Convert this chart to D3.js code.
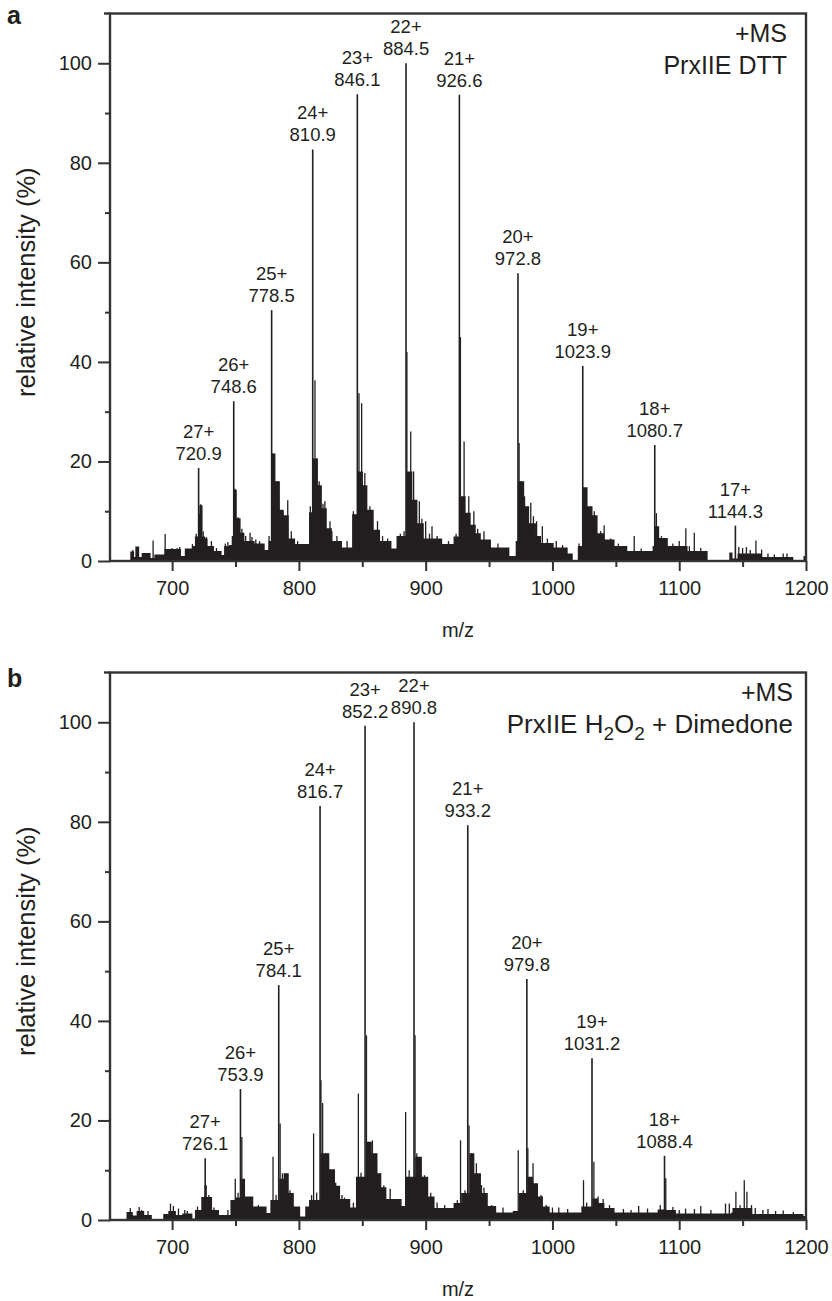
<!DOCTYPE html>
<html>
<head>
<meta charset="utf-8">
<script src="https://cdn.jsdelivr.net/npm/d3@7"></script>
<style>
  body { margin: 0; background: #fff; }
  text { font-family: "Liberation Sans", Arial, Helvetica, sans-serif; fill: #231f20; }
</style>
</head>
<body>
<div id="vis"></div>
<script>
/* ESI mass spectra of PrxIIE, charge-state series, two panels (a: DTT, b: H2O2 + dimedone) */

// ---------- data ----------
// envelope (m/z, relative intensity), drawn as a step profile
var envA = [[651,0],[667,1.9],[670,0.8],[671,2.9],[674,0.8],[676,1.6],[683,0.6],[686,1.3],[694,2.4],[707,1.0],[710,2.5],
  [716,3.0],[718,4.9],[720.5,9.5],[721.5,11.2],[724,4.9],[726,4.5],[728,3.0],[733,2.0],[739,1.2],[741,3.0],[745,3.2],
  [747,5.0],[748.8,14.3],[751,8.6],[754,5.7],[757,4.0],[765,3.5],[773,2.2],[776,4.0],[778.6,21.6],[781.5,16],[785,10.3],
  [788,9.2],[792,4.5],[797,3.4],[808,9.8],[811,20.6],[815,15.2],[818,10.6],[822,6.6],[826,4.0],[834,2.7],[842,9.4],
  [846.2,18],[850.5,15.2],[854,10.3],[859,6.3],[864,4.0],[873,2.5],[877,5.0],[884.6,18],[889.5,12.3],[893.5,7.6],
  [898.5,4.5],[913,3.4],[922,4.9],[926.7,13],[931.5,9.7],[935.5,7.3],[939.5,5.6],[943.5,4.3],[951.5,2.7],[966,1.0],
  [971,4.0],[972.9,16],[977.7,11],[981.6,7.6],[987,5.0],[991,3.6],[1001,2.7],[1012,1.5],[1016,0.2],[1020,3.0],[1024,14.8],
  [1027.7,11],[1031.6,9.2],[1035.6,5.6],[1041,4.3],[1049,3.0],[1059,2.0],[1079,3.0],[1080.8,7.0],[1084.2,4.6],[1091,3.0],
  [1106.6,2.0],[1122.4,0],[1139.5,1.7],[1142,0.5],[1146,1.5],[1164.5,0.8],[1190,0],[1198,1.0],[1200,1.0]];

var envB = [[651,0],[664,1.6],[669,0.9],[672,1.8],[678,1.0],[684,0],[693,1.2],[697,1.8],[703,1.0],[708,1.3],[716,0.3],
  [718,2.0],[723,4.6],[725.5,7.0],[727,4.6],[731.5,2.0],[737,1.0],[746,4.0],[750,4.5],[754.5,8.3],[757.5,4.7],[764,2.7],
  [774.5,1.4],[777.5,4.0],[784.5,8.3],[788,9.4],[792,5.4],[796,2.7],[801,0.7],[805,2.7],[808,4.0],[817.3,13.4],[824,10.2],
  [828.5,6.9],[832.5,4.2],[840.5,2.5],[845,8.7],[853.5,15.7],[857.5,13.4],[862,9.4],[865,6.6],[869,4.2],[881,2.8],
  [884,8.7],[891.8,12.7],[897,8.7],[902,4.7],[907,2.4],[922,3.4],[928,5.4],[934.5,13.4],[938.4,9.4],[943.6,5.4],[949,2.8],
  [955.6,1.5],[968.7,1.8],[973.5,5.4],[980.5,8.7],[984.6,7.4],[988.5,4.7],[992.5,2.7],[997.8,1.5],[1022.8,2.7],
  [1031.5,4.3],[1036,3.4],[1041,2.4],[1049,1.5],[1083,2.1],[1089.4,2.0],[1097.4,1.3],[1141,1.5],[1142,2.4],
  [1157.6,1.2],[1198,0.8],[1200,0.8]];

// single unlabelled sticks (m/z, relative intensity)
var spikesA = [[669,2.2],[672.5,2.8],[685,4.1],[694.5,5.4],[700,2.6],[704,2.6],[706,2.8],[712,2.4],[716,3.4],[719,5.5],
  [722.6,11.4],[724.5,6],[727,4.8],[731,4],[735,2.6],[742,3.5],[744,3.8],[749.6,14.5],[752,8.8],[755,6.5],[758,5],
  [761.5,5.7],[763,4.8],[766,4.3],[769,4],[776.5,5],[779.4,21.6],[782.4,16],[784,12],[787.4,10],[791.2,12.2],[794,6],
  [799,4],[805,3],[809,11],[812.7,36.3],[814,20.6],[816,16],[817.3,15],[819,11.5],[820.5,12],[824.5,8],[826,6],[830,5],
  [833,3.8],[838,4],[843,10],[847.4,33.7],[849.5,31.7],[852,17.7],[856,11],[858,8],[862,8],[866,5],[870,4.5],[880,5.5],
  [883,6],[885.2,42],[888.2,26],[890.5,18],[892,10],[895,12],[897,8.5],[900,8],[903,5.5],[905,7],[909,5],[918,4],
  [924,5.5],[927.4,45],[930.3,24],[934,13],[938,10],[941,6.5],[946,6],[950,4],[957,3.5],[964,2.5],[973.7,23.7],
  [975.2,16],[978,13],[982.9,11.7],[985,9],[987.5,8],[992,7],[996,4.5],[1003,4],[1008,3.2],[1021,3.5],[1025,14.3],
  [1029,10.6],[1033,10],[1038,6],[1040.8,7.2],[1046,4.5],[1052,3.5],[1058,3],[1064.5,5],[1070,2.5],[1082,9.6],[1086,5],
  [1089,4.5],[1095,3.5],[1100,4],[1105.2,6.6],[1108,3],[1111.9,5.7],[1117,2.6],[1147,2.8],[1150,2.6],[1153,2.8],
  [1156,2.2],[1160.5,4.1],[1165,2.3],[1170,1.5],[1175,1.3],[1182,1.5],[1185,1.5]];

var spikesB = [[667,2.4],[674,2.6],[676,2.0],[681,1.8],[698.7,3.3],[701,2.8],[705,2.3],[710,2],[712,1.8],[720,2.7],
  [726.8,7],[729,5],[733,2.5],[744,2],[749.8,8.3],[752,5.5],[755,16.7],[757,8],[760,4],[768,3],[779.6,12.7],[782,5],
  [785.2,19.4],[787,9.4],[790,9],[793,6],[799,2.5],[810,5],[811.6,17.4],[814,5.5],[817.4,28.1],[818.7,23.5],[821,13.4],
  [826,10],[829,7.5],[834,5],[836,4.5],[843,3.5],[846.9,25.4],[849,9.5],[853.3,37.1],[855,15.7],[858,16],[861,11],
  [864,9.4],[867,7],[872,6.3],[876,4],[884.2,21.7],[887,10],[891.6,37.1],[893,13.4],[896,12],[899,9],[904,5.5],[909,3.5],
  [915,3],[925,4],[927.5,16],[931,6],[934.2,19],[936,13.4],[940,11.4],[944,7],[946,6.5],[952,3],[961,2.5],[973,14],
  [977,6],[980.6,14.4],[984.7,11.4],[988,7.3],[991,5],[995,3],[1000,2.5],[1005,2.5],[1012,2.2],[1024.5,8],[1027,3.5],
  [1032.7,11.7],[1036,4.7],[1040,4.2],[1045,3],[1056,2.2],[1062,2],[1068,2.8],[1075,2.3],[1085,3],[1089.4,8.4],
  [1095,2.6],[1100,2],[1105,2.3],[1112,2.2],[1117,2.8],[1125,2],[1136.5,3.3],[1139.5,3.3],[1144.7,5.7],[1148,3],
  [1151.3,8],[1153.4,5.7],[1157,3],[1160,2.4],[1166,2],[1170,2.2],[1176,1.8],[1182,1.9],[1190,1.6]];

// labelled charge states
var chargeA = [27, 26, 25, 24, 23, 22, 21, 20, 19, 18, 17];
var peakMzA = [720.9, 748.6, 778.5, 810.9, 846.1, 884.5, 926.6, 972.8, 1023.9, 1080.7, 1144.3];
var peakIntA = [18.7, 32.1, 50.4, 82.7, 93.8, 100, 93.7, 57.8, 39.2, 23.3, 7.1];

var chargeB = [27, 26, 25, 24, 23, 22, 21, 20, 19, 18];
var peakMzB = [726.1, 753.9, 784.1, 816.7, 852.2, 890.8, 933.2, 979.8, 1031.2, 1088.4];
var peakIntB = [12.4, 26.3, 47.2, 83.2, 99.3, 100, 79.3, 48.4, 32.5, 12.9];

// axis ticks
var xMajor = [700, 800, 900, 1000, 1100, 1200];
var xMinor = [750, 850, 950, 1050, 1150];
var yMajor = [0, 20, 40, 60, 80, 100];
var yMinor = [10, 30, 50, 70, 90];

// ---------- layout ----------
var width = 832, height = 1301;
var margin = {left: 110, right: 26};
var drawWidth = width - margin.left - margin.right;
var drawHeight = 547.5;
var ink = '#231f20';

var svg = d3.select('#vis').append('svg')
  .attr('width', width)
  .attr('height', height);

var xScale = d3.scaleLinear().domain([651, 1200]).range([0, drawWidth]);
var yScale = d3.scaleLinear().domain([0, 110]).range([drawHeight, 0]);
var fmt = d3.format('.1f');

var panels = [
  {top: 13.5, letter: 'a', letterY: 24, env: envA, spikes: spikesA, charge: chargeA, mz: peakMzA, inten: peakIntA, noteX: 677, sample: 'dtt'},
  {top: 672.5, letter: 'b', letterY: 686.7, env: envB, spikes: spikesB, charge: chargeB, mz: peakMzB, inten: peakIntB, noteX: 683, sample: 'h2o2'}
];

panels.forEach(function(p) {
  var g = svg.append('g').attr('transform', 'translate(' + margin.left + ',' + p.top + ')');

  // step profile of the spectrum
  var area = d3.area()
    .x(function(d) { return xScale(d[0]); })
    .y0(yScale(0))
    .y1(function(d) { return yScale(d[1]); })
    .curve(d3.curveStepAfter);
  g.append('path').datum(p.env).attr('d', area).attr('fill', ink);

  // sticks
  g.selectAll('line.spike').data(p.spikes).enter().append('line')
    .attr('class', 'spike')
    .attr('x1', function(d) { return xScale(d[0]); })
    .attr('x2', function(d) { return xScale(d[0]); })
    .attr('y1', yScale(0))
    .attr('y2', function(d) { return yScale(d[1]); })
    .attr('stroke', ink).attr('stroke-width', 1.3);

  var peaks = p.charge.map(function(c, i) { return {z: c, mz: p.mz[i], v: p.inten[i]}; });
  g.selectAll('line.peak').data(peaks).enter().append('line')
    .attr('class', 'peak')
    .attr('x1', function(d) { return xScale(d.mz); })
    .attr('x2', function(d) { return xScale(d.mz); })
    .attr('y1', yScale(0))
    .attr('y2', function(d) { return yScale(d.v); })
    .attr('stroke', ink).attr('stroke-width', 1.6);

  // peak labels
  var lab = g.selectAll('g.lab').data(peaks).enter().append('g')
    .attr('class', 'lab')
    .attr('transform', function(d) { return 'translate(' + xScale(d.mz) + ',' + (yScale(d.v) - 8) + ')'; });
  lab.append('text').attr('text-anchor', 'middle').attr('font-size', '18.5px')
    .text(function(d) { return fmt(d.mz); });
  lab.append('text').attr('text-anchor', 'middle').attr('font-size', '18.5px').attr('y', -22)
    .text(function(d) { return d.z + '+'; });

  // frame
  g.append('rect').attr('width', drawWidth).attr('height', drawHeight)
    .attr('fill', 'none').attr('stroke', '#333').attr('stroke-width', 2.4);
  g.append('line').attr('x1', -6).attr('x2', 0).attr('y1', 0).attr('y2', 0)
    .attr('stroke', '#333').attr('stroke-width', 2.4);

  // axes
  function styleAxis(sel) {
    sel.select('.domain').remove();
    sel.selectAll('.tick line').attr('stroke', '#333').attr('stroke-width', 2);
    sel.selectAll('.tick text').attr('fill', ink).attr('font-size', '20px')
      .attr('font-family', '"Liberation Sans", Arial, sans-serif');
  }
  g.append('g').attr('transform', 'translate(0,' + drawHeight + ')')
    .call(d3.axisBottom(xScale).tickValues(xMajor).tickFormat(d3.format('d')).tickSize(10).tickPadding(10))
    .call(styleAxis);
  g.append('g').attr('transform', 'translate(0,' + drawHeight + ')')
    .call(d3.axisBottom(xScale).tickValues(xMinor).tickSize(6).tickFormat(''))
    .call(styleAxis);
  g.append('g')
    .call(d3.axisLeft(yScale).tickValues(yMajor).tickSize(12).tickPadding(6))
    .call(styleAxis);
  g.append('g')
    .call(d3.axisLeft(yScale).tickValues(yMinor).tickSize(5).tickFormat(''))
    .call(styleAxis);

  // axis titles
  g.append('text').attr('text-anchor', 'middle').attr('font-size', '20px')
    .attr('x', drawWidth / 2).attr('y', drawHeight + 76).text('m/z');
  g.append('text').attr('text-anchor', 'middle').attr('font-size', '25.5px')
    .attr('transform', 'translate(-75,' + (drawHeight / 2 - 5) + ') rotate(-90)')
    .text('relative intensity (%)');

  // annotation
  g.append('text').attr('text-anchor', 'end').attr('font-size', '25px')
    .attr('x', p.noteX).attr('y', 28.5).text('+MS');
  var note = g.append('text').attr('text-anchor', 'end').attr('font-size', '25px')
    .attr('x', p.noteX).attr('y', 60);
  if (p.sample === 'dtt') {
    note.text('PrxIIE DTT');
  } else {
    note.attr('font-size', '26px');
    note.append('tspan').text('PrxIIE H');
    note.append('tspan').attr('font-size', '19px').attr('dy', 7).text('2');
    note.append('tspan').attr('dy', -7).text('O');
    note.append('tspan').attr('font-size', '19px').attr('dy', 7).text('2');
    note.append('tspan').attr('dy', -7).text(' + Dimedone');
  }

  // panel letter
  svg.append('text').attr('x', 7).attr('y', p.letterY)
    .attr('font-size', '25px').attr('font-weight', 'bold').text(p.letter);
});
</script>
</body>
</html>
